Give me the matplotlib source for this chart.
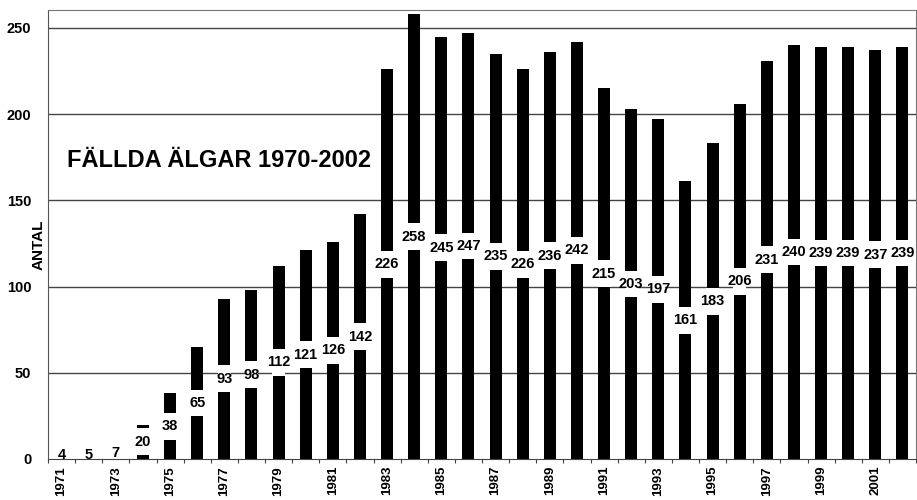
import matplotlib
matplotlib.use("Agg")
import matplotlib.pyplot as plt
import numpy as np

plt.rcParams['font.family'] = ['Liberation Sans', 'DejaVu Sans']

years = list(range(1971, 2003))
values = [4, 5, 7, 20, 38, 65, 93, 98, 112, 121, 126, 142, 226, 258, 245, 247,
          235, 226, 236, 242, 215, 203, 197, 161, 183, 206, 231, 240, 239, 239, 237, 239]
yticks = [0, 50, 100, 150, 200, 250]
title = "FÄLLDA ÄLGAR 1970-2002"
ylabel = "ANTAL"

fig = plt.figure(figsize=(9.17, 5.0), dpi=100)
ax = fig.add_axes([48/917, 41/500, 868/917, 449/500])

bw = 0.44
ax.bar(years, values, width=bw, color='black', zorder=2)
for y in yticks[1:]:
    ax.axhline(y, color='#444444', lw=1.0, zorder=1)

gap = 15.5
for x, v in zip(years, values):
    lo = max(v/2 - gap/2, 0)
    hi = min(v/2 + gap/2, v)
    if v < gap:
        lo, hi = 0, v
    ax.bar(x, hi - lo, bottom=lo, width=bw + 0.04, color='white', zorder=2.5)
    ax.text(x, v/2 if v >= gap else max(v/2, 2.5), str(v), ha='center', va='center',
            fontsize=10.5, fontweight='bold', color='black', zorder=3)

ax.set_xlim(1970.52, 2002.42)
ax.set_ylim(0, 260.4)
ax.set_yticks(yticks)
ax.set_yticklabels([str(t) for t in yticks], fontsize=10.5, fontweight='bold')
ax.tick_params(axis='y', length=0, pad=12)

odd = years[::2]
ax.set_xticks(odd)
ax.set_xticklabels([str(y) for y in odd], rotation=90, fontsize=9.5, fontweight='bold')
ax.tick_params(axis='x', length=0, pad=5)
ax.set_xticks(np.arange(1970.5, 2003, 1.0), minor=True)
ax.tick_params(axis='x', which='minor', length=3, width=0.8, color='#444444')

ax.text(-0.0104, 0.477, ylabel, transform=ax.transAxes, rotation=90, fontsize=11,
        fontweight='bold', ha='center', va='center')

for s in ['top', 'right']:
    ax.spines[s].set_color('#777777')
    ax.spines[s].set_linewidth(0.8)
ax.spines['left'].set_color('#555555')
ax.spines['bottom'].set_color('#444444')

ax.text(1971.2, 173, title, fontsize=17, fontweight='bold', ha='left', va='center', zorder=4)

fig.savefig('out.png', dpi=100, facecolor='white')
